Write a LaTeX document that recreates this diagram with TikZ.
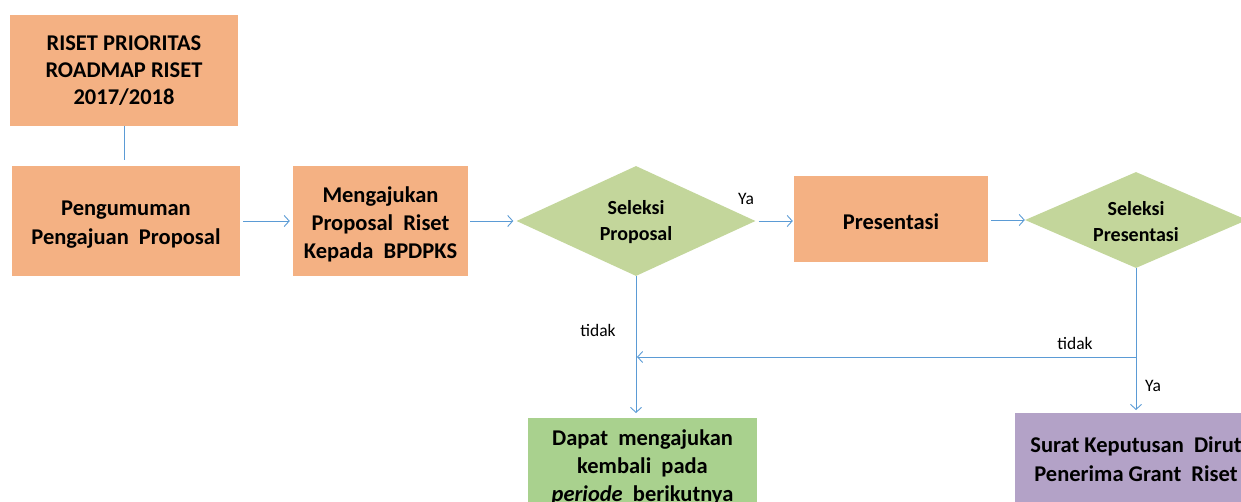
\documentclass[tikz,border=0pt]{standalone}
\usepackage{fontspec}
\setmainfont{Carlito}
\usetikzlibrary{shapes.geometric,arrows.meta}
\definecolor{orangebox}{HTML}{F4B183}
\definecolor{greendia}{HTML}{C3D69B}
\definecolor{greenbox}{HTML}{A9D18E}
\definecolor{purplebox}{HTML}{B3A2C7}
\definecolor{linkblue}{HTML}{5B9BD5}
\tikzset{
  bigfont/.style={font=\fontsize{22.5}{28}\selectfont\bfseries},
  boxbase/.style={rectangle, inner sep=0pt, align=center, bigfont, text=black},
  obox/.style={boxbase, fill=orangebox},
  gbox/.style={boxbase, fill=greenbox},
  pbox/.style={boxbase, fill=purplebox},
  boxtext/.style={bigfont, align=center, inner sep=0pt},
  dia/.style={diamond, fill=greendia, inner sep=0pt},
  diatext/.style={align=center, inner sep=0pt, font=\fontsize{20}{26}\selectfont\bfseries},
  link/.style={draw=linkblue, line width=0.9pt},
  arr/.style={link, -{Straight Barb[length=5pt,width=11pt,line width=0.9pt]}},
  lbl/.style={font=\fontsize{17.5}{20}\selectfont, inner sep=0pt}
}
\begin{document}
\begin{tikzpicture}[x=1pt,y=-1pt]
\useasboundingbox (0,0) rectangle (1241,502);
\clip (0,0) rectangle (1241,502);
\node[obox, minimum width=228pt, minimum height=111pt, font=\fontsize{22.5}{27}\selectfont\bfseries] (b1) at (124,70.5) {RISET PRIORITAS\\ROADMAP RISET\\2017/2018};
\node[obox, minimum width=228pt, minimum height=110pt] (b2) at (126,221) {};
\node[boxtext, font=\fontsize{22.5}{29}\selectfont\bfseries] (b2t) at (126,225) {Pengumuman\\Pengajuan\ \ Proposal};
\node[obox, minimum width=175pt, minimum height=110pt] (b3) at (380.5,221) {};
\node[boxtext] (b3t) at (380.5,224) {Mengajukan\\Proposal\ \ Riset\\Kepada\ \ BPDPKS};
\node[dia, minimum width=239pt, minimum height=110pt] (d1) at (636,221) {};
\node[diatext] (d1t) at (636,222) {Seleksi\\Proposal};
\node[obox, minimum width=194pt, minimum height=86pt] (pr) at (891,219) {};
\node[boxtext] (prt) at (891,222) {Presentasi};
\node[dia, minimum width=222pt, minimum height=96pt] (d2) at (1136,220) {};
\node[diatext] (d2t) at (1136,222) {Seleksi\\Presentasi};
\node[gbox, minimum width=229pt, minimum height=104pt, anchor=north] (dp) at (642.5,418) {};
\node[boxtext, anchor=north] (dpt) at (642.5,430) {Dapat\ \ mengajukan\\kembali\ \ pada\\\textit{periode}\ \ berikutnya};
\node[pbox, minimum width=244pt, minimum height=106pt, anchor=north] (sk) at (1137,413) {};
\node[boxtext, anchor=north, font=\fontsize{22.5}{29}\selectfont\bfseries] (skt) at (1136,437) {Surat Keputusan\ \ Dirut\\Penerima Grant\ \ Riset};

\draw[link, shorten >=6pt] (b1.south) -- (b1.south |- b2.north);
\draw[arr, shorten <=3pt, shorten >=3pt] (b2.east) -- (b3.west);
\draw[arr, shorten <=2pt, shorten >=3pt] (b3.east) -- (d1.west);
\draw[arr, shorten <=3pt, shorten >=1pt] (d1.east) -- (pr.west |- d1.east);
\draw[arr, shorten <=3pt, shorten >=0pt] (pr.east |- d2.west) -- (d2.west);
\draw[arr, shorten >=5pt] (d1.south) -- (d1.south |- dp.north);
\draw[arr, shorten >=3pt] (d2.south) -- (d2.south |- sk.north);
\coordinate (j) at (d2.south |- 0,357);
\draw[arr, shorten >=1pt] (j) -- (d1.south |- j);

\node[lbl] (ya1) at (746,199) {Ya};
\node[lbl] (td1) at (598,330) {tidak};
\node[lbl] (td2) at (1075,343) {tidak};
\node[lbl] (ya2) at (1153,386) {Ya};
\end{tikzpicture}
\end{document}
